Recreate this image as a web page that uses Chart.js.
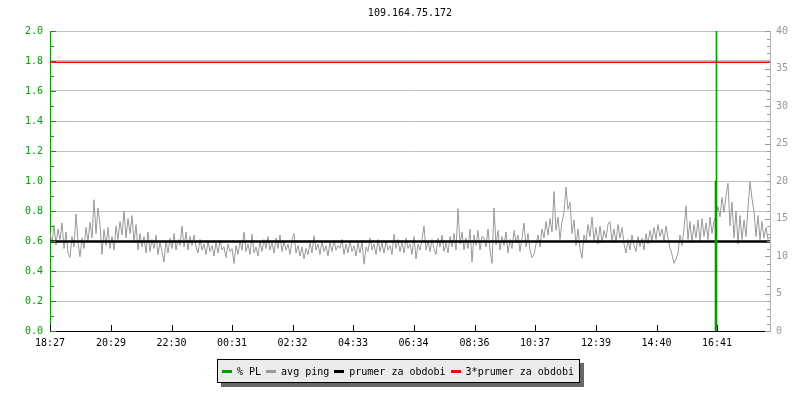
<!DOCTYPE html>
<html>
<head>
<meta charset="utf-8">
<script src="https://cdn.jsdelivr.net/npm/chart.js@4"></script>
<style>
  body { margin: 0; background: #fff; }
  #wrap { position: relative; width: 800px; height: 400px; }
  #legend {
    position: absolute; left: 217px; top: 359px; width: 357px; height: 22px;
    background: #ebebeb; border: 1px solid #000; box-shadow: 4px 4px 0 #666;
    font: 10px "DejaVu Sans Mono", monospace; color: #000; white-space: nowrap;
    display: flex; align-items: center; padding-left: 4px; box-sizing: content-box;
  }
  #legend .item { display: flex; align-items: center; margin-right: 5px; flex-shrink: 0; }
  #legend .sw { width: 10px; height: 3px; margin-right: 5px; }
</style>
</head>
<body>
<div id="wrap">
  <canvas id="pingChart" width="800" height="400"></canvas>
  <div id="legend"></div>
</div>
<script>
// ping samples, one every 4 minutes from 18:27 (ms)
const sampleMinutes = 4;
const pingMs = [
  13.0,11.8,14.1,11.5,13.6,12.2,14.4,11.0,13.2,10.4,
  9.8,12.6,11.2,15.6,11.8,9.9,12.4,11.0,13.8,12.0,
  14.5,12.4,17.5,13.0,16.4,14.2,10.2,13.5,11.4,13.8,
  11.0,12.6,10.8,14.0,12.2,14.6,12.8,16.0,12.4,15.0,
  13.0,15.4,11.8,14.2,10.8,13.0,11.2,12.6,10.4,13.2,
  10.6,12.2,11.0,12.8,10.2,11.8,10.6,9.2,12.0,10.4,
  12.4,11.0,13.0,10.8,12.2,11.4,14.0,11.2,13.2,10.8,
  12.6,11.4,12.8,
  11.2,10.4,12.2,10.8,11.6,10.2,12.0,10.6,11.4,10.0,
  11.8,10.4,12.1,10.8,11.2,9.8,11.6,10.6,11.0,9.0,
  11.4,10.2,12.0,10.8,13.2,10.6,11.6,10.2,12.9,10.4,
  11.2,10.0,11.9,10.6,12.2,11.0,12.6,10.8,11.8,10.4,
  12.4,11.0,12.8,10.6,12.0,10.8,11.6,10.2,12.2,13.0,
  10.4,11.4,10.0,11.2,9.6,11.0,10.2,11.8,10.4,12.7,
  10.8,11.6,10.2,12.0,10.6,11.4,10.0,11.8,10.6,12.1,
  10.8,11.4,
  11.0,12.2,10.2,11.6,10.4,12.0,10.6,11.4,10.0,11.8,
  10.4,12.0,8.9,11.2,10.6,12.4,10.8,11.6,10.2,12.2,
  10.6,11.8,10.4,12.0,10.8,11.4,10.2,12.9,11.0,12.2,
  10.6,11.8,10.4,12.4,11.0,11.6,10.2,12.6,9.6,11.6,
  10.8,12.2,14.0,10.8,12.0,10.6,12.2,11.0,10.2,12.4,
  11.2,12.8,10.6,11.8,10.4,12.6,11.2,13.0,10.8,16.3,
  11.6,13.2,10.8,12.4,11.0,13.6,9.2,12.8,11.4,13.4,
  10.8,12.6,
  12.4,11.2,13.6,10.8,9.0,16.4,11.5,13.4,10.8,12.6,
  11.4,13.2,10.4,12.2,11.0,13.4,11.8,12.8,10.6,12.4,
  14.4,11.2,13.0,10.8,9.8,10.2,11.6,12.8,11.2,13.6,
  12.4,14.6,12.8,15.0,13.2,18.6,13.4,15.2,12.2,14.6,
  15.8,19.2,16.2,17.2,13.0,14.8,11.4,13.6,11.0,9.7,
  12.8,11.8,14.2,12.6,15.2,12.0,13.8,11.6,14.0,11.8,
  13.4,12.4,14.2,14.6,12.0,13.6,11.8,14.2,12.4,13.8,
  11.6,10.4,
  12.2,10.8,12.8,11.4,10.6,12.6,11.2,12.4,10.8,13.0,
  11.6,13.4,12.0,13.8,12.2,14.2,12.6,13.6,12.0,14.0,
  12.4,11.0,10.2,9.0,9.6,10.4,12.8,11.4,13.6,16.7,
  12.2,14.6,11.8,14.2,12.4,14.8,12.0,15.0,12.6,14.4,
  12.2,15.2,13.0,14.6,15.4,16.6,15.2,17.8,15.8,18.0,
  19.7,14.0,17.2,12.4,16.0,11.6,15.4,12.2,14.8,12.6,
  16.4,19.9,17.6,16.0,12.6,15.4,12.2,14.6,12.4,13.8,
  12.2,12.6
];
const meanMs = 11.95;
const tripleMeanMs = 35.85;

// packet loss events (minutes from start, left axis value)
const plMinutes = [1331, 1333];
const plValues = [1.0, 2.5];

// time axis
const totalMinutes = 1440;
const tickMinutes = [0, 122, 243, 364, 485, 606, 727, 849, 970, 1092, 1213, 1334];
const tickLabels = ['18:27', '20:29', '22:30', '00:31', '02:32', '04:33', '06:34', '08:36', '10:37', '12:39', '14:40', '16:41'];

const legendItems = [
  { label: '% PL', color: '#00a000' },
  { label: 'avg ping', color: '#999999' },
  { label: 'prumer za obdobi', color: '#000000' },
  { label: '3*prumer za obdobi', color: '#ff0000' }
];

const FONT = '"DejaVu Sans Mono", monospace';
const GREEN = '#00a000';
const GREY = '#999999';

// tick marks pointing into the plot, like rrdtool
const innerTicks = {
  id: 'innerTicks',
  afterDraw(chart) {
    const ctx = chart.ctx;
    const area = chart.chartArea;
    ctx.save();
    ctx.lineWidth = 1;

    const y = chart.scales.y;
    ctx.strokeStyle = GREEN;
    y.ticks.forEach(t => {
      const py = Math.round(y.getPixelForValue(t.value)) + 0.5;
      const len = Math.round(t.value * 10) % 2 === 0 ? 6 : 4;
      ctx.beginPath();
      ctx.moveTo(area.left, py);
      ctx.lineTo(area.left + len, py);
      ctx.stroke();
    });

    const y2 = chart.scales.y2;
    ctx.strokeStyle = GREY;
    y2.ticks.forEach(t => {
      const py = Math.round(y2.getPixelForValue(t.value)) + 0.5;
      const len = Math.round(t.value) % 5 === 0 ? 5 : 3;
      ctx.beginPath();
      ctx.moveTo(area.right - len, py);
      ctx.lineTo(area.right, py);
      ctx.stroke();
    });

    const x = chart.scales.x;
    ctx.strokeStyle = '#000';
    tickMinutes.forEach(m => {
      const px = Math.round(x.getPixelForValue(m)) + 0.5;
      ctx.beginPath();
      ctx.moveTo(px, area.bottom - 6);
      ctx.lineTo(px, area.bottom);
      ctx.stroke();
    });
    ctx.restore();
  }
};

const pingPoints = pingMs.map((v, i) => ({ x: i * sampleMinutes, y: v }));
const plPoints = plMinutes.map((m, i) => ({ x: m, y: plValues[i] }));

new Chart(document.getElementById('pingChart').getContext('2d'), {
  type: 'line',
  data: {
    datasets: [
      {
        label: '3*prumer za obdobi',
        data: [{ x: 0, y: tripleMeanMs }, { x: totalMinutes, y: tripleMeanMs }],
        yAxisID: 'y2',
        borderColor: '#ff0000',
        borderWidth: 1.5,
        pointRadius: 0,
        order: 0
      },
      {
        type: 'bar',
        label: '% PL',
        data: plPoints,
        yAxisID: 'y',
        backgroundColor: GREEN,
        barThickness: 1,
        grouped: false,
        order: 1
      },
      {
        label: 'prumer za obdobi',
        data: [{ x: 0, y: meanMs }, { x: totalMinutes, y: meanMs }],
        yAxisID: 'y2',
        borderColor: '#000000',
        borderWidth: 2.5,
        pointRadius: 0,
        order: 2
      },
      {
        label: 'avg ping',
        data: pingPoints,
        yAxisID: 'y2',
        borderColor: GREY,
        borderWidth: 1,
        pointRadius: 0,
        tension: 0,
        order: 3
      }
    ]
  },
  options: {
    responsive: false,
    animation: false,
    plugins: {
      legend: { display: false },
      tooltip: { enabled: false },
      title: {
        display: true,
        text: '109.164.75.172',
        fullSize: false,
        color: '#000',
        font: { family: FONT, size: 10, weight: 'normal' },
        padding: { top: 7, bottom: 12 }
      }
    },
    scales: {
      x: {
        type: 'linear',
        min: 0,
        max: totalMinutes,
        offset: false,
        afterBuildTicks: scale => { scale.ticks = tickMinutes.map(v => ({ value: v })); },
        afterFit: scale => { scale.height = 69; },
        ticks: {
          autoSkip: false,
          maxRotation: 0,
          padding: 6,
          color: '#000',
          font: { family: FONT, size: 10 },
          callback: (v, i) => tickLabels[i]
        },
        grid: { drawOnChartArea: false, drawTicks: false },
        border: { color: '#000', width: 1 }
      },
      y: {
        position: 'left',
        min: 0,
        max: 2,
        afterFit: scale => { scale.width = 50; },
        ticks: {
          stepSize: 0.1,
          autoSkip: false,
          padding: 7,
          color: GREEN,
          font: { family: FONT, size: 10 },
          callback: v => (Math.round(v * 10) % 2 === 0 ? v.toFixed(1) : '')
        },
        grid: {
          drawTicks: false,
          color: c => (c.tick && c.tick.value > 0.01 && Math.round(c.tick.value * 10) % 2 === 0) ? '#c0c0c0' : 'rgba(0,0,0,0)'
        },
        border: { color: GREEN, width: 1 }
      },
      y2: {
        position: 'right',
        min: 0,
        max: 40,
        afterFit: scale => { scale.width = 30; },
        ticks: {
          stepSize: 1,
          autoSkip: false,
          padding: 6,
          color: GREY,
          font: { family: FONT, size: 10 },
          callback: v => (v % 5 === 0 ? String(v) : '')
        },
        grid: { drawOnChartArea: false, drawTicks: false },
        border: { color: '#b0b0b0', width: 1 }
      }
    }
  },
  plugins: [innerTicks]
});

// html legend
const legendEl = document.getElementById('legend');
legendItems.forEach(item => {
  const el = document.createElement('div');
  el.className = 'item';
  const sw = document.createElement('span');
  sw.className = 'sw';
  sw.style.background = item.color;
  const txt = document.createElement('span');
  txt.textContent = item.label;
  el.appendChild(sw);
  el.appendChild(txt);
  legendEl.appendChild(el);
});
</script>
</body>
</html>
